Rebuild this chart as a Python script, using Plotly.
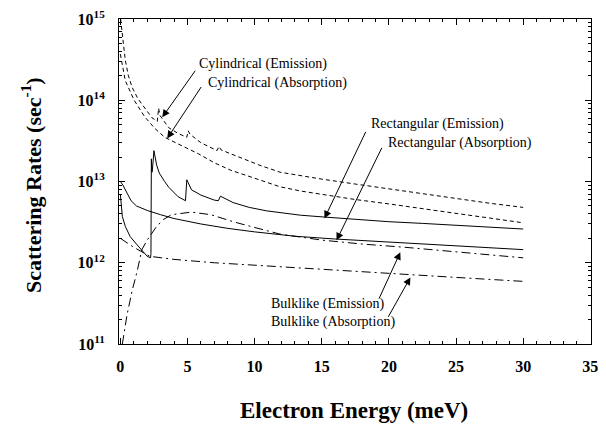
import plotly.graph_objects as go

# ---------------- data ----------------
cyl_em_x = [0.02, 0.15, 0.37, 0.6, 0.88, 1.3, 1.76, 2.35, 2.75, 2.85, 2.95, 3.6, 4.3, 4.95, 5.05, 5.2,
            6.0, 6.75, 7.2, 7.35, 7.5, 8.2, 9.3, 10.4, 11.9, 13.5, 15, 17.5, 20, 22.5, 25, 27.5, 30]
cyl_em_y = [1.0e15, 6e14, 3.1e14, 2.0e14, 1.44e14, 1.05e14, 8.2e13, 6.1e13, 5.5e13, 8e13, 6.5e13, 4.6e13,
            3.9e13, 3.5e13, 4.2e13, 3.8e13, 3.0e13, 2.6e13, 2.4e13, 2.7e13, 2.45e13, 2.2e13, 1.85e13,
            1.58e13, 1.3e13, 1.17e13, 1.07e13, 9.3e12, 8.1e12, 7.1e12, 6.2e12, 5.4e12, 4.8e12]

cyl_ab_x = [0.0, 0.37, 1.03, 1.83, 2.57, 3.3, 4.3, 5.8, 7.0, 8.2, 9.3, 10.4, 11.9, 13.5, 15, 17.5, 20,
            22.5, 25, 27.5, 30]
cyl_ab_y = [3.7e14, 1.74e14, 1.0e14, 6.2e13, 4.5e13, 3.5e13, 2.9e13, 2.2e13, 1.7e13, 1.38e13, 1.2e13,
            1.04e13, 8.6e12, 7.6e12, 6.9e12, 6.0e12, 5.3e12, 4.6e12, 4.05e12, 3.55e12, 3.1e12]

rect_em_x = [0, 0.05, 0.15, 0.37, 0.73, 1.25, 1.7, 2.0, 2.25, 2.28, 2.31, 2.36, 2.42, 2.5, 2.7, 2.9,
             3.3, 3.6, 4.3, 4.85, 4.95, 5.3, 6.0, 7.0, 7.3, 7.45, 8.4, 9.6, 10.9, 12.2, 13.4, 15.2, 17.5,
             20, 22.5, 25, 27.5, 30]
rect_em_y = [7e12, 5.2e12, 3.7e12, 2.8e12, 2.1e12, 1.66e12, 1.35e12, 1.2e12, 1.15e12, 1.3e12, 1.9e13,
             1.3e13, 1.6e13, 2.4e13, 1.6e13, 1.27e13, 1.0e13, 8.5e12, 6.5e12, 5.8e12, 1.05e13, 7.9e12,
             6.8e12, 5.9e12, 5.8e12, 6.6e12, 5.5e12, 4.8e12, 4.35e12, 4.05e12, 3.85e12, 3.65e12, 3.4e12,
             3.2e12, 3.05e12, 2.9e12, 2.75e12, 2.6e12]

rect_ab_x = [0, 0.2, 0.5, 0.8, 1.2, 2, 3, 4, 6, 8, 10, 13, 16, 20, 25, 30]
rect_ab_y = [1.0e13, 9.0e12, 7.2e12, 5.8e12, 5.0e12, 4.4e12, 3.9e12, 3.5e12, 3.0e12, 2.65e12, 2.4e12,
             2.12e12, 1.96e12, 1.8e12, 1.6e12, 1.45e12]

bulk_em_x = [0.15, 0.3, 0.5, 0.9, 1.25, 1.6, 2.0, 2.7, 3.2, 3.8, 4.8, 5.3, 6.75, 8.4, 9.7, 11.9, 15,
             18, 21.2, 25, 30]
bulk_em_y = [1e11, 1.4e11, 2.3e11, 4.7e11, 7.8e11, 1.45e12, 1.9e12, 2.8e12, 3.4e12, 3.9e12, 4.1e12,
             4.2e12, 3.9e12, 3.2e12, 2.8e12, 2.25e12, 1.9e12, 1.7e12, 1.55e12, 1.37e12, 1.15e12]

bulk_ab_x = [0, 1, 2.2, 4, 7, 10, 13, 16, 20, 25, 30]
bulk_ab_y = [2.0e12, 1.55e12, 1.2e12, 1.1e12, 1.0e12, 9.3e11, 8.8e11, 8.1e11, 7.4e11, 6.6e11, 5.9e11]

x_ticks = [0, 5, 10, 15, 20, 25, 30, 35]
y_exps = [11, 12, 13, 14, 15]

SERIF = "Liberation Serif, Times New Roman, serif"
X_RANGE = [-0.1, 35.05]
Y_RANGE = [11, 15]

fig = go.Figure()
dash_cyl = "4px,3px"
dash_bulk = "9px,4px,2px,4px"
for xs, ys, dash in [(cyl_em_x, cyl_em_y, dash_cyl), (cyl_ab_x, cyl_ab_y, dash_cyl),
                     (rect_em_x, rect_em_y, "solid"), (rect_ab_x, rect_ab_y, "solid"),
                     (bulk_em_x, bulk_em_y, dash_bulk), (bulk_ab_x, bulk_ab_y, dash_bulk)]:
    fig.add_trace(go.Scatter(x=xs, y=ys, mode="lines",
                             line=dict(color="black", width=1, dash=dash),
                             showlegend=False, hoverinfo="skip"))

# invisible trace for the mirrored (top/right) tick axes
fig.add_trace(go.Scatter(x=[x_ticks[0]], y=[10.0 ** y_exps[0]], xaxis="x2", yaxis="y2", mode="markers",
                         marker=dict(opacity=0), showlegend=False, hoverinfo="skip"))

minor_y = [k * 10.0 ** n for n in range(11, 15) for k in range(2, 10)]
minor_x = list(range(0, 36))

common = dict(ticks="inside", ticklen=6, tickwidth=1, tickcolor="black",
              showline=True, linecolor="black", linewidth=1,
              showgrid=False, zeroline=False)

fig.update_layout(
    width=606, height=425,
    margin=dict(l=119, r=8, t=18, b=81),
    paper_bgcolor="white", plot_bgcolor="white",
    xaxis=dict(range=X_RANGE, tickmode="array", tickvals=x_ticks,
               ticktext=[f"<b>{v}</b>" for v in x_ticks], ticklabelstandoff=8,
               tickfont=dict(family=SERIF, size=16, color="black"),
               minor=dict(tickmode="array", tickvals=minor_x, ticks="inside",
                          ticklen=3, tickcolor="black", showgrid=False), **common),
    yaxis=dict(type="log", range=Y_RANGE, tickmode="array",
               tickvals=[10.0 ** e for e in y_exps],
               ticktext=[f"<b>10<sup>{e}</sup></b>" for e in y_exps], ticklabelstandoff=10,
               tickfont=dict(family=SERIF, size=16, color="black"),
               minor=dict(tickmode="array", tickvals=minor_y, ticks="inside",
                          ticklen=3, tickcolor="black", showgrid=False), **common),
    xaxis2=dict(range=X_RANGE, overlaying="x", side="top", anchor="y2", tickmode="array",
                tickvals=x_ticks, showticklabels=False,
                minor=dict(tickmode="array", tickvals=minor_x, ticks="inside",
                           ticklen=3, tickcolor="black", showgrid=False), **common),
    yaxis2=dict(type="log", range=Y_RANGE, overlaying="y", side="right", anchor="x2",
                tickmode="array", tickvals=[10.0 ** e for e in y_exps], showticklabels=False,
                minor=dict(tickmode="array", tickvals=minor_y, ticks="inside",
                           ticklen=3, tickcolor="black", showgrid=False), **common),
)

# axis titles
fig.add_annotation(text="<b>Scattering Rates (sec<sup>-1</sup>)</b>", xref="paper", yref="paper",
                   x=-0.186, y=0.49, xanchor="center", yanchor="middle", textangle=-90,
                   showarrow=False, font=dict(family=SERIF, size=22, color="black"))
fig.add_annotation(text="<b>Electron Energy (meV)</b>", xref="paper", yref="paper",
                   x=0.497, y=-0.205, xanchor="center", yanchor="middle", showarrow=False,
                   font=dict(family=SERIF, size=23, color="black"))

# labels
labels = [("Cylindrical (Emission)", 5.69, 14.45), ("Cylindrical (Absorption)", 6.35, 14.215),
          ("Rectangular (Emission)", 18.5, 13.71), ("Rectangular (Absorption)", 19.75, 13.48),
          ("Bulklike (Emission)", 11.04, 11.49), ("Bulklike (Absorption)", 11.04, 11.27)]
for t, lx, ly in labels:
    fig.add_annotation(text=t, x=lx, y=ly, xref="x", yref="y", xanchor="left", yanchor="middle",
                       showarrow=False, font=dict(family=SERIF, size=14, color="black"))

# arrows (head on the curve, tail offset in pixels)
arrows = [(3.12, 13.79, 34, -48), (3.49, 13.53, 35, -53),
          (15.2, 12.546, 42, -88), (16.1, 12.276, 46, -94),
          (20.85, 12.13, -22, 48), (21.6, 11.82, -23, 41)]
for hx, hy, ax, ay in arrows:
    fig.add_annotation(text="", x=hx, y=hy, xref="x", yref="y", ax=ax, ay=ay,
                       showarrow=True, arrowhead=2, arrowsize=1.5, arrowwidth=1,
                       arrowcolor="black")

fig.write_html("out.html")
